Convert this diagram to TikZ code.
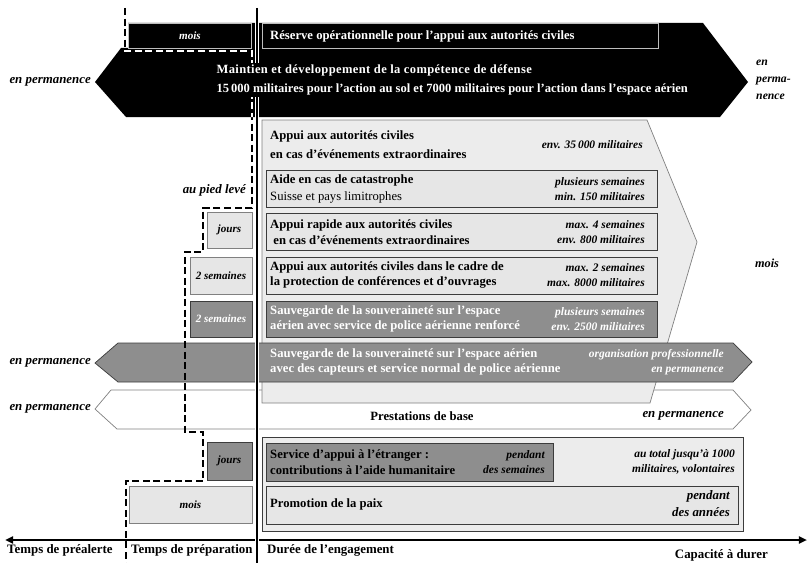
\documentclass[tikz,border=0pt]{standalone}
\usepackage{fontspec}
\setmainfont{Liberation Serif}
\usepackage{xcolor}
\usetikzlibrary{arrows.meta}
\definecolor{pale}{HTML}{ECECEC}
\definecolor{palebox}{HTML}{E6E6E6}
\definecolor{mid}{HTML}{8E8E8E}
\definecolor{rim}{HTML}{3C3C3C}
\definecolor{soft}{HTML}{808080}
\definecolor{edge}{HTML}{BDBDBD}

\begin{document}
\begin{tikzpicture}[
  x=0.03cm, y=-0.03cm,
  txt/.style={font=\fontsize{10.8}{13.5}\selectfont\bfseries, align=left, anchor=west, inner sep=0pt},
  wtxt/.style={txt, text=white},
  figs/.style={font=\fontsize{9.8}{12.8}\selectfont\bfseries\itshape, align=right, anchor=east, inner sep=0pt},
  wfigs/.style={figs, text=white},
  timetag/.style={font=\fontsize{9.5}{12.5}\selectfont\bfseries\itshape, inner sep=0pt},
  perm/.style={timetag, font=\fontsize{11}{13}\selectfont\bfseries\itshape, anchor=east},
  axtag/.style={txt, font=\fontsize{11}{13}\selectfont\bfseries},
  greybox/.style={fill=palebox, draw=rim, line width=0.6pt},
  darkbox/.style={fill=mid, draw=rim, line width=0.6pt},
  sidebox/.style={fill=palebox, draw=soft, line width=0.6pt},
  bigframe/.style={fill=pale, draw=soft, line width=0.6pt},
  leadline/.style={dash pattern=on 6pt off 3pt, line width=1.6pt},
  axis/.style={{Triangle[length=7pt,width=6pt]}-{Triangle[length=7pt,width=6pt]}, line width=2.2pt}
]
\useasboundingbox (0,0) rectangle (809,563);

% bands behind everything
\path[fill=white, draw=soft, line width=0.6pt] (95,409) -- (111,390) -- (733,390) -- (751,410) -- (733,429) -- (117,429) -- cycle;
\path[bigframe] (262,120) -- (647,120) -- (697,242) -- (650,403) -- (262,403) -- cycle;
\path[greybox] (266,170) rectangle (657,207);
\path[greybox] (266,213) rectangle (657,250);
\path[greybox] (266,257) rectangle (657,294);
\path[darkbox] (266,301) rectangle (657,337);
\path[darkbox] (95,363) -- (118,343) -- (733,343) -- (752,362) -- (733,382) -- (118,382) -- cycle;

% black band on top
\path[fill=black] (95,82) -- (121,48) -- (128,48) -- (128,23) -- (703,23) -- (748,82) -- (720,117) -- (126,117) -- cycle;
\path[fill=black, draw=edge, line width=0.6pt] (128,23) rectangle (251,48);
\path[fill=black, draw=edge, line width=0.6pt] (262,23) rectangle (658,48);

% left column
\path[sidebox] (207,212) rectangle (252,248);
\path[sidebox] (190,257) rectangle (252,294);
\path[darkbox] (190,301) rectangle (252,337);
\path[darkbox] (207,442) rectangle (252,480);
\path[sidebox] (129,486) rectangle (252,523);

% bottom block
\path[bigframe, draw=rim] (262,437) rectangle (743,531);
\path[darkbox] (266,443) rectangle (553,481);
\path[greybox] (266,486) rectangle (738,524);

% time axis
\coordinate (tl) at (5,540);
\coordinate (tr) at (807,540);
\draw[axis] (tl) -- (tr);

% readiness line
\draw[leadline] (125,8) -- (125,51) -- (252,51) -- (252,208) -- (203,208) -- (203,252) -- (185,252)
  -- (185,432) -- (203,432) -- (203,481) -- (126,481) -- (126,563);
\begin{scope}
\clip (95,82) -- (121,48) -- (128,48) -- (128,23) -- (703,23) -- (748,82) -- (720,117) -- (126,117) -- cycle;
\draw[leadline, white] (125,8) -- (125,51) -- (252,51) -- (252,208);
\end{scope}

% start of engagement
\coordinate (vtop) at (257,8);
\coordinate (vbot) at (257,563);
\draw[white, line width=3.6pt] (vtop) -- (vbot);
\draw[line width=1.4pt] (vtop) -- (vbot);

% texts
\node[timetag, text=white] (moisA) at (190,36) {mois};
\node[wtxt] (reserve) at (270,36) {Réserve opérationnelle pour l'appui aux autorités civiles};
\node[wtxt, fill=black, inner sep=2pt, font=\fontsize{10.7}{15.5}\selectfont\bfseries] (maintien) at (214,80) {{\addfontfeatures{LetterSpace=3}Maintien et développement de la compétence de défense}\\15\,000 militaires pour l'action au sol et 7000 militaires pour l'action dans l'espace aérien};
\node[perm] (permL) at (91,82) {en permanence};
\node[timetag, align=left, anchor=west, font=\fontsize{10}{14.5}\selectfont\bfseries\itshape] (permR) at (756,80) {en\\perma-\\nence};

\node[txt, font=\fontsize{10.8}{16}\selectfont\bfseries] (appui) at (270,145) {Appui aux autorités civiles\\en cas d'événements extraordinaires};
\node[figs] (appuiN) at (643,145) {env. 35\,000 militaires};
\node[txt, font=\fontsize{10.8}{14.5}\selectfont] (aide) at (270,189) {\textbf{Aide en cas de catastrophe}\\Suisse et pays limitrophes};
\node[figs] (aideN) at (645,189) {plusieurs semaines\\min. 150 militaires};
\node[txt] (rapide) at (270,232) {Appui rapide aux autorités civiles\\\ en cas d'événements extraordinaires};
\node[figs] (rapideN) at (645,232) {max. 4 semaines\\env. 800 militaires};
\node[txt] (confer) at (270,275) {Appui aux autorités civiles dans le cadre de\\la protection de conférences et d'ouvrages};
\node[figs] (conferN) at (645,275) {max. 2 semaines\\max. 8000 militaires};
\node[wtxt] (souvR) at (270,319) {Sauvegarde de la souveraineté sur l'espace\\aérien avec service de police aérienne renforcé};
\node[wfigs] (souvRN) at (645,319) {plusieurs semaines\\env. 2500 militaires};
\node[timetag, font=\fontsize{10.5}{13}\selectfont\bfseries\itshape] (moisR) at (767,263) {mois};

\node[perm] (pied) at (246,190) {au pied levé};
\node[timetag] (joursA) at (229.5,230) {jours};
\node[timetag] (semA) at (221,275.5) {2 semaines};
\node[timetag, text=white] (semB) at (221,319) {2 semaines};

\node[wtxt] (souvN) at (270,362) {Sauvegarde de la souveraineté sur l'espace aérien\\avec des capteurs et service normal de police aérienne};
\node[wfigs] (souvNN) at (724,362) {organisation professionnelle\\en permanence};
\node[perm] (permG) at (91,363) {en permanence};

\node[txt, anchor=center] (base) at (422,416) {Prestations de base};
\node[perm] (baseN) at (724,416) {en permanence};
\node[perm] (permW) at (91,409) {en permanence};

\node[txt] (etranger) at (270,462) {Service d'appui à l'étranger :\\contributions à l'aide humanitaire};
\node[figs] (etrangerN) at (545,462) {pendant\\des semaines};
\node[figs] (total) at (735,462) {au total jusqu'à 1000\\militaires, volontaires};
\node[txt] (paix) at (270,504) {Promotion de la paix};
\node[figs, font=\fontsize{11}{14.5}\selectfont\bfseries\itshape] (paixN) at (730,504) {pendant\\des années};
\node[timetag] (joursB) at (229.5,461) {jours};
\node[timetag] (moisB) at (190.5,504.5) {mois};

\node[axtag] (prealerte) at (7,550) {Temps de préalerte};
\node[axtag] (prep) at (131,550) {Temps de préparation};
\node[axtag] (duree) at (267,550) {Durée de l'engagement};
\node[axtag, anchor=east] (durer) at (768,555) {Capacité à durer};
\end{tikzpicture}
\end{document}
